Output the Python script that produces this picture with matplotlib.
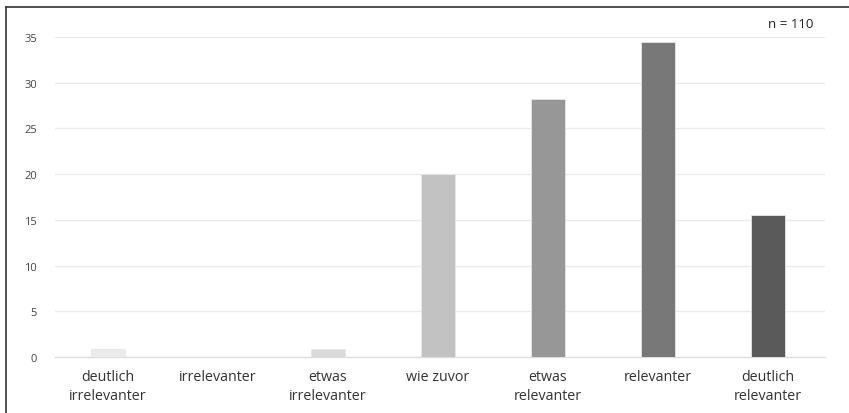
import matplotlib.pyplot as plt
from matplotlib.lines import Line2D

# Data (percentages, n = 110)
categories = ['deutlich\nirrelevanter', 'irrelevanter', 'etwas\nirrelevanter', 'wie zuvor',
              'etwas\nrelevanter', 'relevanter', 'deutlich\nrelevanter']
values = [0.9, 0.0, 0.9, 20.0, 28.2, 34.5, 15.5]
colors = ['#ebebeb', '#e3e3e3', '#dadada', '#c2c2c2', '#979797', '#787878', '#5a5a5a']
y_ticks = [0, 5, 10, 15, 20, 25, 30, 35]

plt.rcParams['font.family'] = ['Open Sans', 'DejaVu Sans']

fig = plt.figure(figsize=(8.49, 4.14), dpi=100)
ax = fig.add_axes([55 / 849, 1 - 358 / 414, 770 / 849, 320 / 414])

x = range(len(categories))
ax.bar(x, values, width=0.31, color=colors, edgecolor='#e6e6e6', linewidth=0.6, zorder=3)

ax.set_xlim(-0.48, 6.52)
ax.set_ylim(0, 35)
ax.set_yticks(y_ticks)
ax.set_yticklabels([str(t) for t in y_ticks], fontsize=8, color='#444444')
ax.set_xticks(list(x))
ax.set_xticklabels(categories, fontsize=10.3, color='#333333', linespacing=1.35)
ax.tick_params(axis='both', length=0)
ax.tick_params(axis='y', pad=13)
ax.tick_params(axis='x', pad=9)

ax.yaxis.grid(True, color='#ebebeb', linewidth=1.0, zorder=0)
for s in ['top', 'right', 'left']:
    ax.spines[s].set_visible(False)
ax.spines['bottom'].set_color('#dedede')
ax.spines['bottom'].set_linewidth(1.0)

fig.text(791 / 849, 1 - 25 / 414, 'n = 110', fontsize=9.5, color='#222222', ha='center', va='center')

# frame lines (left and top)
fig.add_artist(Line2D([5.5 / 849, 5.5 / 849], [0, 1 - 7.5 / 414], color='#333333', linewidth=1.2,
                      transform=fig.transFigure))
fig.add_artist(Line2D([5.5 / 849, 1], [1 - 7.5 / 414, 1 - 7.5 / 414], color='#333333', linewidth=1.2,
                      transform=fig.transFigure))

fig.savefig('out.png', dpi=100)
